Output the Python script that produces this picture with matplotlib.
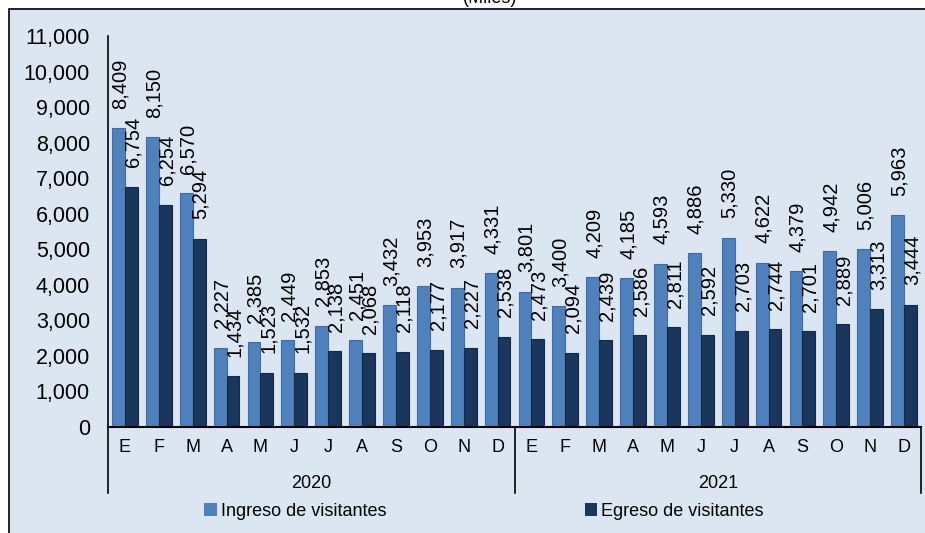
import matplotlib.pyplot as plt
import matplotlib.transforms as mtransforms
from matplotlib.patches import Rectangle, Patch
import numpy as np

months = ['E', 'F', 'M', 'A', 'M', 'J', 'J', 'A', 'S', 'O', 'N', 'D'] * 2
years = ['2020', '2021']
ingreso = [8409, 8150, 6570, 2227, 2385, 2449, 2853, 2451, 3432, 3953, 3917, 4331,
           3801, 3400, 4209, 4185, 4593, 4886, 5330, 4622, 4379, 4942, 5006, 5963]
egreso = [6754, 6254, 5294, 1434, 1523, 1532, 2138, 2068, 2118, 2177, 2227, 2538,
          2473, 2094, 2439, 2586, 2811, 2592, 2703, 2744, 2701, 2889, 3313, 3444]

c_in = '#4F81BD'
c_eg = '#1B365D'
panel = '#DCE6F2'
main_font = ['Liberation Sans', 'DejaVu Sans']
narrow_font = ['Liberation Sans Narrow', 'Liberation Sans', 'DejaVu Sans']

fig = plt.figure(figsize=(9.25, 5.33), dpi=100)
fig.patch.set_facecolor('white')

# light blue panel with black frame, behind the axes
fig.patches.append(Rectangle((9 / 925, -0.05), 1.0, 1.05 - 9 / 533,
                             transform=fig.transFigure, facecolor=panel,
                             edgecolor='black', linewidth=1.2, zorder=-5))
fig.text(490 / 925, 1 - 7 / 533, '(Miles)', ha='center', va='bottom',
         fontsize=13, family=main_font)

ax = fig.add_axes([108 / 925, 1 - 427 / 533, (921 - 108) / 925, (427 - 36) / 533])
ax.patch.set_alpha(0)

x = np.arange(len(months))
w = 0.38
b1 = ax.bar(x - w / 2, ingreso, w, color=c_in, edgecolor='#3E6DA6', linewidth=0.8)
b2 = ax.bar(x + w / 2, egreso, w, color=c_eg, edgecolor='#13294A', linewidth=0.8)

for bars, vals in ((b1, ingreso), (b2, egreso)):
    for r, v in zip(bars, vals):
        ax.annotate(f'{v:,}', (r.get_x() + r.get_width() / 2, v),
                    xytext=(1, 14), textcoords='offset points',
                    rotation=90, ha='center', va='bottom',
                    fontsize=14.5, family=main_font)

ax.set_xlim(-0.5, len(months) - 0.5)
ax.set_ylim(0, 11000)
ax.set_yticks(range(0, 11001, 1000))
ax.set_yticklabels([f'{t:,}' for t in range(0, 11001, 1000)],
                   fontsize=15.5, family=main_font)
ax.tick_params(axis='y', length=0, pad=13)
ax.set_xticks(x)
ax.set_xticklabels(months, fontsize=13, family=narrow_font)
ax.tick_params(axis='x', length=0, pad=9)

for s in ('top', 'right'):
    ax.spines[s].set_visible(False)
ax.spines['left'].set_linewidth(1.2)
ax.spines['bottom'].set_linewidth(1.5)

# year separators and year labels
trans = mtransforms.blended_transform_factory(ax.transData, ax.transAxes)
for xs in (-0.5, 11.5, 23.5):
    ax.plot([xs, xs], [0, -(493 - 427) / 391], color='black', lw=1.2,
            transform=trans, clip_on=False)
for i, yr in enumerate(years):
    ax.text(i * 12 + 5.5, -(483 - 427) / 391, yr, transform=trans,
            ha='center', va='center', fontsize=13, family=narrow_font)

handles = [Patch(facecolor=c_in, label='Ingreso de visitantes'),
           Patch(facecolor=c_eg, label='Egreso de visitantes')]
fig.legend(handles=handles, loc='center', bbox_to_anchor=(484 / 925, 1 - 511 / 533),
           ncol=2, frameon=False, handlelength=0.7, handleheight=0.7,
           handletextpad=0.2, columnspacing=11,
           prop={'family': narrow_font, 'size': 13})

plt.savefig('out.png', dpi=100)
